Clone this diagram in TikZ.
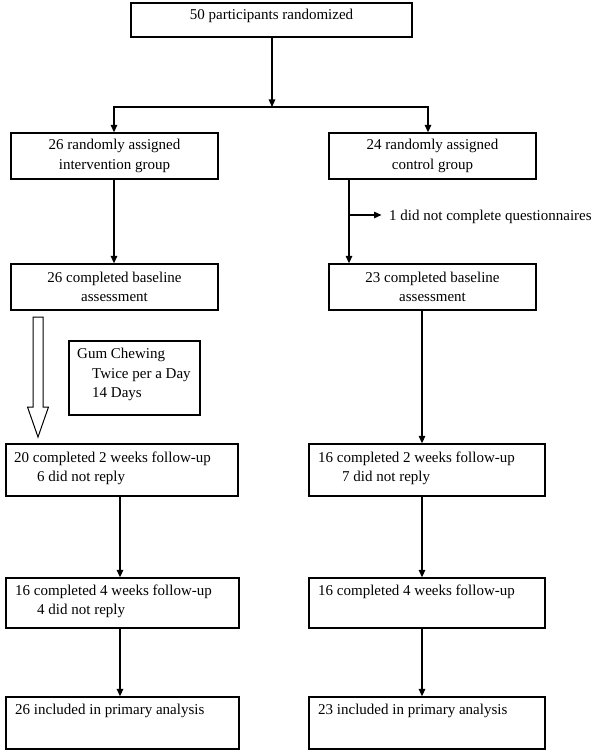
\documentclass[tikz,border=0pt]{standalone}
\usepackage{fontspec}
\setmainfont{Liberation Serif}
\usetikzlibrary{arrows.meta}
\begin{document}
\begin{tikzpicture}[x=1pt,y=-1pt,
  box/.style={draw, line width=1.3pt, inner sep=0pt, align=center, font=\fontsize{15}{19.5}\selectfont},
  lbl/.style={anchor=base west, inner sep=0pt, font=\fontsize{15}{19}\selectfont},
  arr/.style={line width=1.3pt, -{Triangle[length=7.5pt,width=6.5pt]}}]
\path[use as bounding box, fill=white] (0,0) rectangle (600,751);
% boxes
\node[box, minimum width=281pt, minimum height=34pt] (top) at (271.5,20) {};
\node[box, minimum width=207pt, minimum height=46pt] (L2) at (114.5,156) {26 randomly assigned\\intervention group};
\node[box, minimum width=207pt, minimum height=46pt] (R2) at (432.5,156) {24 randomly assigned\\control group};
\node[box, minimum width=207pt, minimum height=46pt] (L3) at (114.5,287) {26 completed baseline\\assessment};
\node[box, minimum width=207pt, minimum height=46pt] (R3) at (432.5,287) {23 completed baseline\\assessment};
\node[box, minimum width=131pt, minimum height=74pt] (gum) at (134.5,378) {};
\node[box, minimum width=232pt, minimum height=52pt] (L4) at (122,470) {};
\node[box, minimum width=236pt, minimum height=52pt] (R4) at (427,470) {};
\node[box, minimum width=233pt, minimum height=50pt] (L5) at (122.5,603) {};
\node[box, minimum width=236pt, minimum height=50pt] (R5) at (427,603) {};
\node[box, minimum width=233pt, minimum height=52pt] (L6) at (122.5,723) {};
\node[box, minimum width=236pt, minimum height=52pt] (R6) at (427,723) {};
% texts
\node[lbl, anchor=base] (toptext) at (271.5,20) {50 participants randomized};
\node[lbl] (g1) at (77,358) {Gum Chewing};
\node[lbl] (g2) at (92,378) {Twice per a Day};
\node[lbl] (g3) at (92,397) {14 Days};
\node[lbl] (l4a) at (14,462) {20 completed 2 weeks follow-up};
\node[lbl] (l4b) at (37,481) {6 did not reply};
\node[lbl] (r4a) at (318,462) {16 completed 2 weeks follow-up};
\node[lbl] (r4b) at (342,481) {7 did not reply};
\node[lbl] (l5a) at (15,595) {16 completed 4 weeks follow-up};
\node[lbl] (l5b) at (37,614) {4 did not reply};
\node[lbl] (r5a) at (318,595) {16 completed 4 weeks follow-up};
\node[lbl] (l6a) at (15,714) {26 included in primary analysis};
\node[lbl] (r6a) at (318,714) {23 included in primary analysis};
\node[lbl, anchor=base west] (excl) at (389,220) {1 did not complete questionnaires};
% helper coordinates
\coordinate (fork) at (272,107);
\coordinate (xl2) at (114,0);
\coordinate (xr2) at (428,0);
\coordinate (xr3) at (349,0);
\coordinate (xr4) at (422,0);
\coordinate (xl) at (120,0);
\coordinate (xr) at (422,0);
\coordinate (side) at (349,215);
\coordinate (sideend) at (381.5,215);
% connectors
\draw[arr] (top.south -| fork) -- (fork);
\draw[arr] (fork) -| (L2.north -| xl2);
\draw[arr] (fork) -| (R2.north -| xr2);
\draw[arr] (L2.south -| xl2) -- (L3.north -| xl2);
\draw[arr] (R2.south -| xr3) -- (R3.north -| xr3);
\draw[arr] (side) -- (sideend);
\draw[arr] (R3.south -| xr4) -- (R4.north -| xr4);
\draw[arr] (L4.south -| xl) -- (L5.north -| xl);
\draw[arr] (L5.south -| xl) -- (L6.north -| xl);
\draw[arr] (R4.south -| xr) -- (R5.north -| xr);
\draw[arr] (R5.south -| xr) -- (R6.north -| xr);
% hollow arrow
\draw[line width=1pt, line join=miter] (33,317) -- (43,317) -- (43,407) -- (48.5,407) -- (38,437) -- (27.5,407) -- (33,407) -- cycle;
\end{tikzpicture}
\end{document}
